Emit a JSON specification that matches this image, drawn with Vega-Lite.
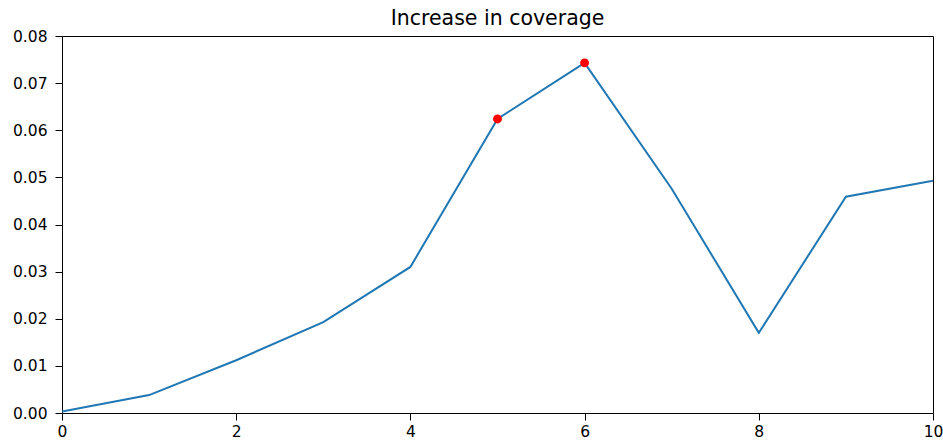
{
  "$schema": "https://vega.github.io/schema/vega-lite/v6.json",
  "width": 871,
  "height": 377,
  "autosize": {"type": "none"},
  "padding": {"left": 62, "top": 36, "right": 10, "bottom": 31},
  "background": "white",
  "title": {"text": "Increase in coverage", "font": "DejaVu Sans", "fontSize": 20.5, "fontWeight": "normal", "color": "#000000", "offset": 0},
  "config": {
    "view": {"stroke": "#000000", "strokeWidth": 1},
    "axis": {"grid": false, "domain": false, "ticks": true, "tickColor": "#000000", "tickWidth": 1, "tickSize": 7, "labelFont": "DejaVu Sans", "labelFontSize": 15.5, "labelColor": "#000000", "titleFont": "DejaVu Sans"},
    "axisX": {"labelPadding": 4},
    "axisY": {"labelPadding": 8}
  },
  "data": {"values": [
    {"x": 0, "y": 0.0003, "hl": false},
    {"x": 1, "y": 0.0038, "hl": false},
    {"x": 2, "y": 0.0112, "hl": false},
    {"x": 3, "y": 0.0193, "hl": false},
    {"x": 4, "y": 0.031, "hl": false},
    {"x": 5, "y": 0.0624, "hl": true},
    {"x": 6, "y": 0.0743, "hl": true},
    {"x": 7, "y": 0.0476, "hl": false},
    {"x": 8, "y": 0.017, "hl": false},
    {"x": 9, "y": 0.0459, "hl": false},
    {"x": 10, "y": 0.0493, "hl": false}
  ]},
  "encoding": {
    "x": {"field": "x", "type": "quantitative", "scale": {"domain": [0, 10], "nice": false, "zero": false}, "axis": {"title": null, "values": [0, 2, 4, 6, 8, 10], "format": "d", "labelFlush": false}},
    "y": {"field": "y", "type": "quantitative", "scale": {"domain": [0, 0.08], "nice": false}, "axis": {"title": null, "values": [0, 0.01, 0.02, 0.03, 0.04, 0.05, 0.06, 0.07, 0.08], "format": ".2f", "labelFlush": false}}
  },
  "layer": [
    {"mark": {"type": "line", "color": "#1f77b4", "strokeWidth": 2, "clip": true}},
    {"transform": [{"filter": "datum.hl"}], "mark": {"type": "point", "filled": true, "color": "#ff0000", "size": 80, "opacity": 1}}
  ]
}
